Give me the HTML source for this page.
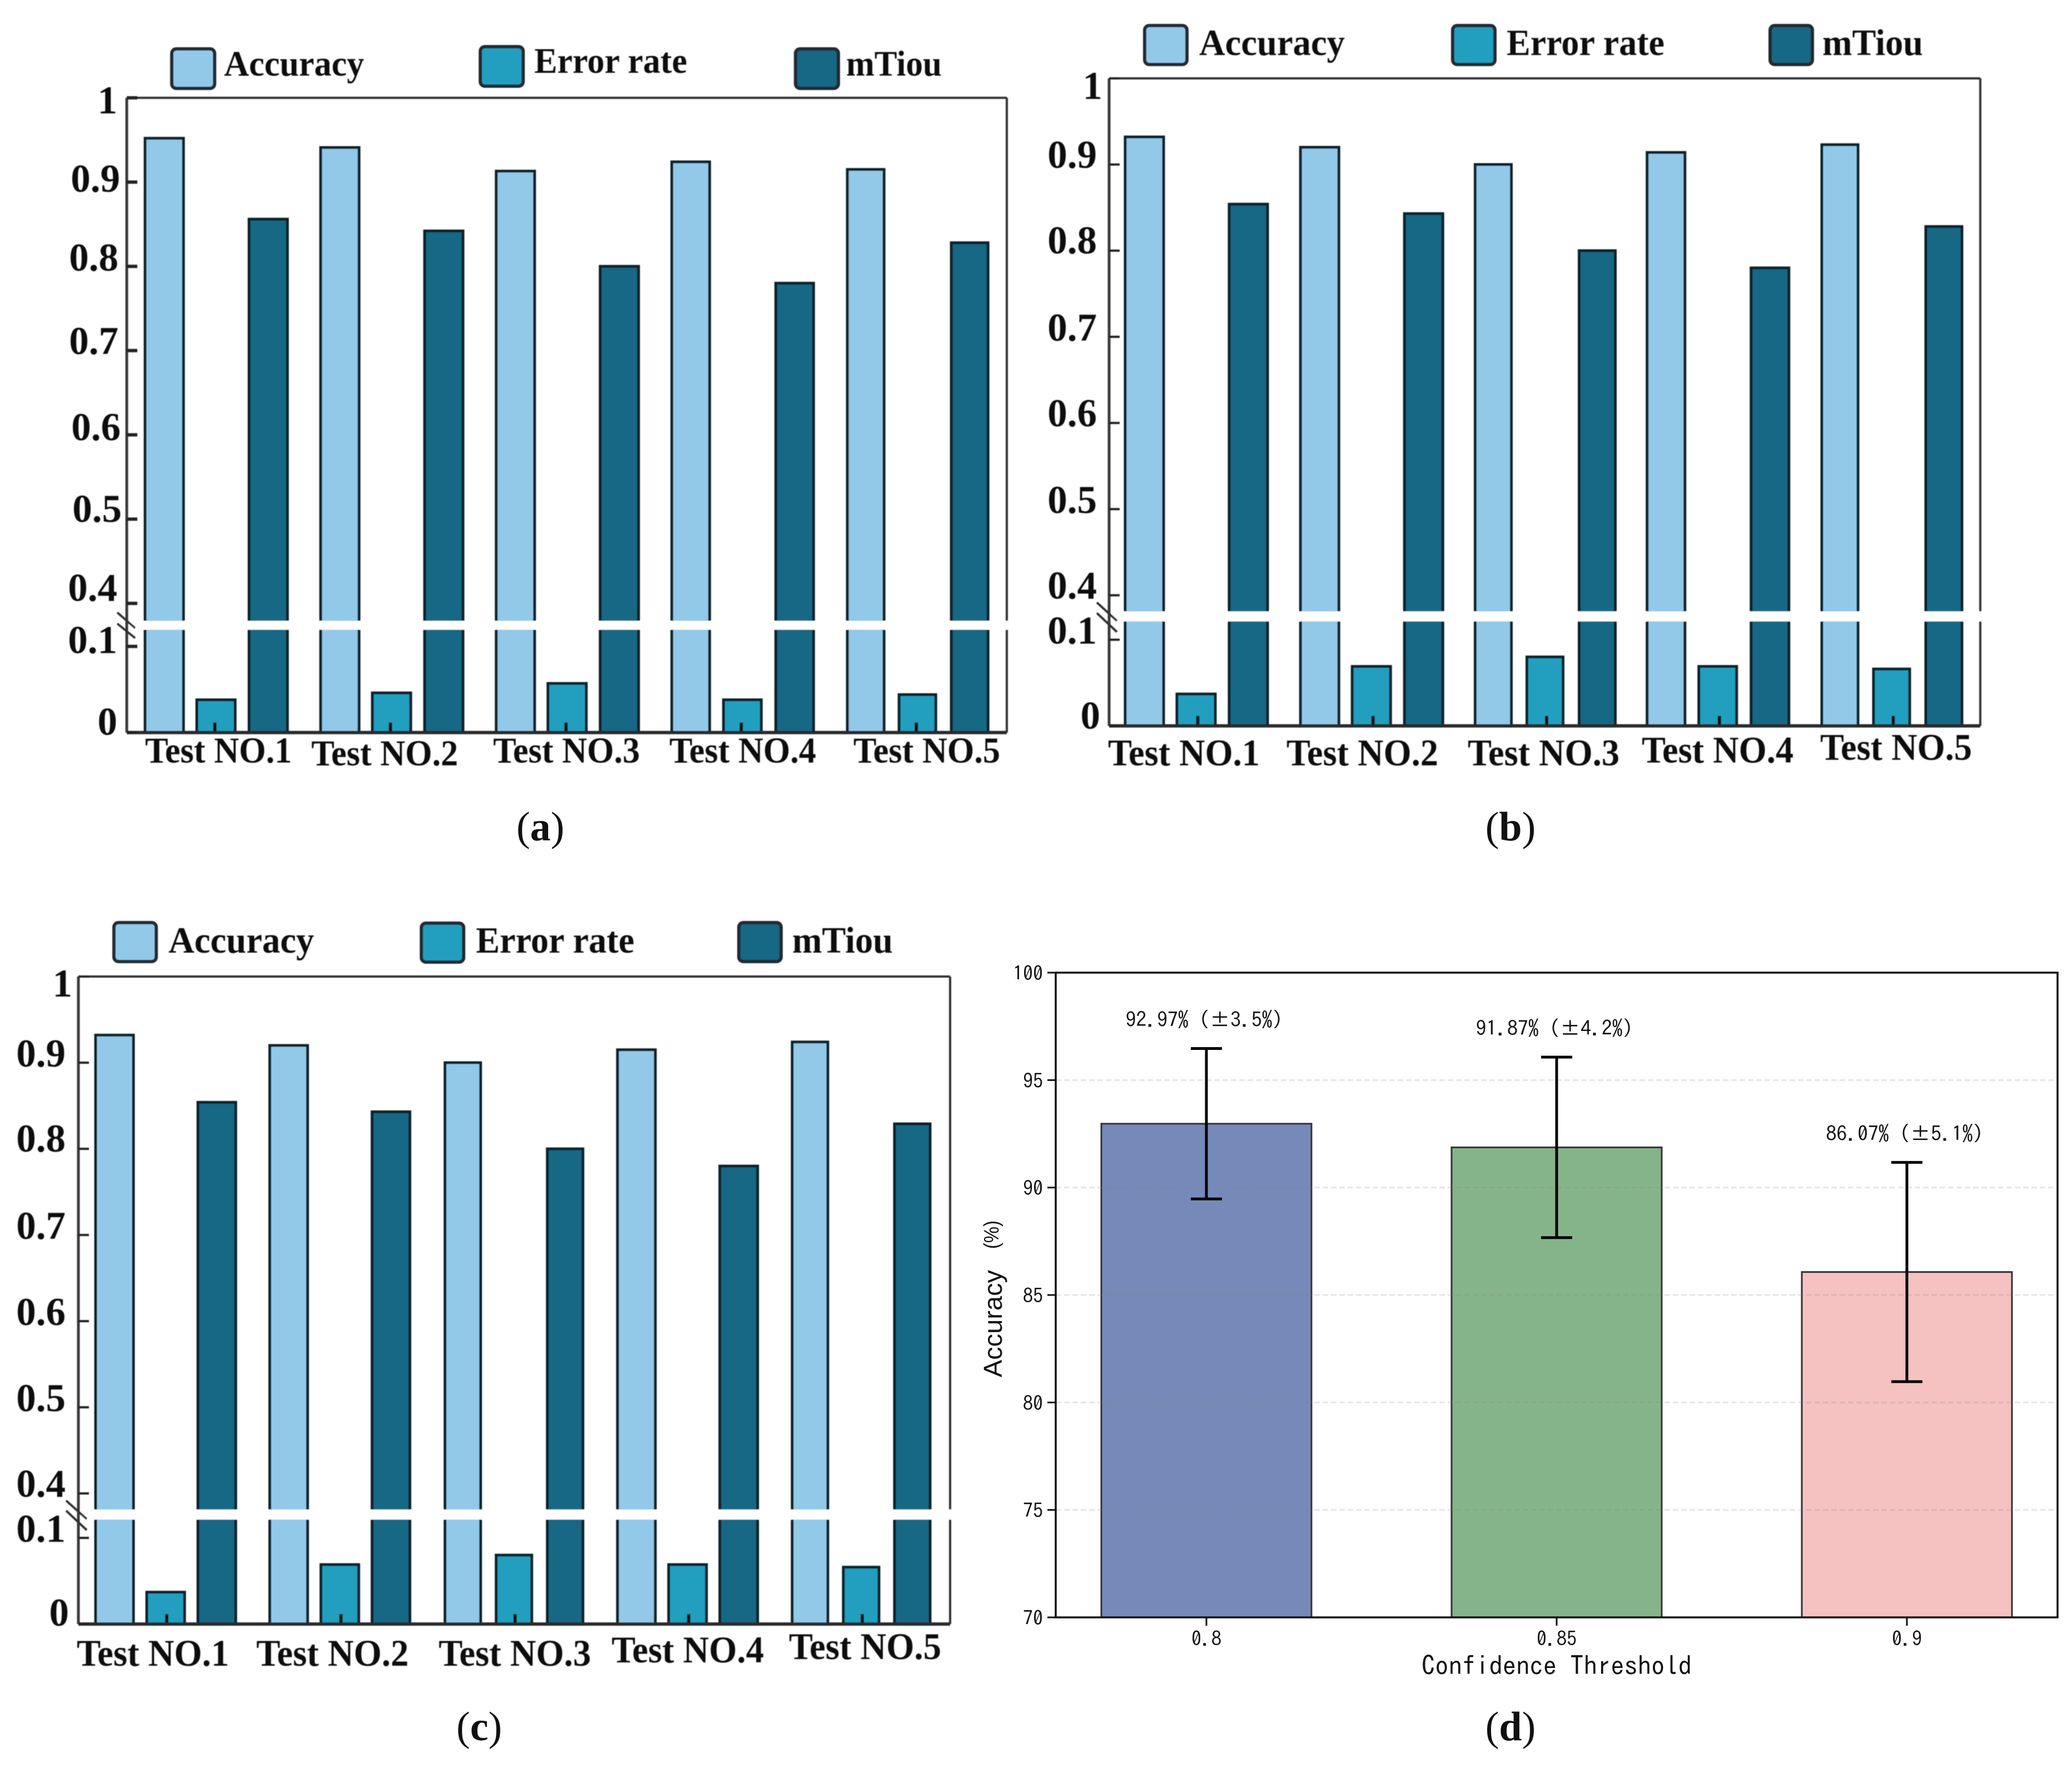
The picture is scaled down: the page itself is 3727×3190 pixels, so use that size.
<!DOCTYPE html>
<html lang="en">
<head>
<meta charset="utf-8">
<title>Detection test results by panel</title>
<style>
html,body{margin:0;padding:0;background:#fff;}
svg{display:block;}
.serif{font-family:"Liberation Serif",serif;fill:#111;}
.hei{font-family:"IPAGothic","Liberation Mono",monospace;fill:#111;}
.sans{font-family:"Liberation Sans",sans-serif;fill:#111;}
</style>
</head>
<body>
<svg id="figure" xmlns="http://www.w3.org/2000/svg" width="3727" height="3190" viewBox="0 0 3727 3190">
<defs>
<filter id="soft" x="-2%" y="-2%" width="104%" height="104%"><feGaussianBlur stdDeviation="0.9"/></filter>
</defs>
<rect width="3727" height="3190" fill="#fff"/>
</svg>
<script>
// ---- data: bar charts ----
const categories = ["Test NO.1", "Test NO.2", "Test NO.3", "Test NO.4", "Test NO.5"];
const seriesNames = ["Accuracy", "Error rate", "mTiou"];
const yTickValues = [1, 0.9, 0.8, 0.7, 0.6, 0.5, 0.4, 0.1, 0];
const yTickLabels = ["1", "0.9", "0.8", "0.7", "0.6", "0.5", "0.4", "0.1", "0"];

const accuracyA = [0.952, 0.941, 0.913, 0.924, 0.915];
const errorA = [0.038, 0.046, 0.057, 0.038, 0.044];
const mtiouA = [0.856, 0.842, 0.800, 0.780, 0.828];

const accuracyB = [0.932, 0.920, 0.900, 0.914, 0.923];
const errorB = [0.037, 0.069, 0.080, 0.069, 0.066];
const mtiouB = [0.854, 0.843, 0.800, 0.780, 0.828];

const accuracyC = [0.932, 0.920, 0.900, 0.915, 0.924];
const errorC = [0.037, 0.069, 0.080, 0.069, 0.066];
const mtiouC = [0.854, 0.843, 0.800, 0.780, 0.829];

// ---- data: panel d ----
const thresholds = ["0.8", "0.85", "0.9"];
const meanAccuracy = [92.97, 91.87, 86.07];
const accuracySpread = [3.5, 4.2, 5.1];
const valueLabels = ["92.97% (±3.5%)", "91.87% (±4.2%)", "86.07% (±5.1%)"];
const dTickValues = [70, 75, 80, 85, 90, 95, 100];
const dTickLabels = ["70", "75", "80", "85", "90", "95", "100"];

// ---- styling ----
const fills = ["#92C9E9", "#219FBF", "#126784"];
const dFills = ["#758AB8", "#86B48A", "#F5C1C1"];
const INK = "#10222b";
const NS = "http://www.w3.org/2000/svg";
const root = document.getElementById("figure");

function mk(parent, tag, name, interactable, attrs, text) {
  const el = document.createElementNS(NS, tag);
  
  
  for (const k in attrs) el.setAttribute(k, attrs[k]);
  if (text !== undefined) el.textContent = text;
  parent.appendChild(el);
  return el;
}

const panelAConfig = {
  key: "a", series: [accuracyA, errorA, mtiouA],
  left: 228, right: 1811, top: 176, bottom: 1318, upperScale: 1516, lowerScale: 1550,
  gapTop: 1117, gapBottom: 1133,
  barStart: 261, barStep: 315.8, barOffsets: [0, 93, 187],
  groupWidths: [69, 69, 69, 68, 66], groupNudges: [0, 0, 0, 0, 0],
  tickShift: -2, tickWidthY: 6, 
  slashX: [211, 243], slashY: [1102, 1130, 1122, 1148],
  yRight: [211, 216, 213, 213, 217, 219, 211, 211, 211],
  yBase: [204, 345, 487, 637, 792, 939, 1081, 1175, 1322],
  xLeft: [261, 560, 887, 1204, 1535], xBase: [1372, 1377, 1372, 1372, 1372], xWidth: 264, xSize: 66,
  legendBoxes: [[306, 86], [861, 82], [1428, 86]], legendBox: 82,
  legendText: [[403, 136, 252], [961, 131, 275], [1522, 136, 172]], legendSize: 65,
  caption: "a", captionX: 972, captionY: 1512
};
const panelBConfig = {
  key: "b", series: [accuracyB, errorB, mtiouB],
  left: 1995, right: 3562, top: 141, bottom: 1306, upperScale: 1550, lowerScale: 1550,
  gapTop: 1100, gapBottom: 1118,
  barStart: 2024, barStep: 313.25, barOffsets: [0, 93, 187],
  groupWidths: [69, 69, 65, 68, 65], groupNudges: [0, 2, 3, -1, 0],
  tickShift: 3, tickWidthY: 4,
  slashX: [1973, 2009], slashY: [1084, 1117, 1103, 1137],
  yRight: [1983, 1973, 1973, 1973, 1973, 1973, 1973, 1973, 1979],
  yBase: [178, 302, 456, 613, 767, 923, 1077, 1158, 1311],
  xLeft: [1993, 2314, 2640, 2953, 3274], xBase: [1377, 1377, 1377, 1372, 1367], xWidth: 273, xSize: 68,
  legendBoxes: [[2056, 44], [2610, 44], [3181, 44]], legendBox: 81,
  legendText: [[2157, 99, 262], [2710, 99, 284], [3278, 99, 181]], legendSize: 67,
  caption: "b", captionX: 2717, captionY: 1512
};
const panelCConfig = {
  key: "c", series: [accuracyC, errorC, mtiouC],
  left: 141, right: 1709, top: 1757, bottom: 2922, upperScale: 1550, lowerScale: 1550,
  gapTop: 2716, gapBottom: 2734,
  barStart: 172, barStep: 313.25, barOffsets: [0, 92, 184],
  groupWidths: [68, 68, 64, 68, 64], groupNudges: [0, 0, 2, -1, 0],
  tickShift: 2, tickWidthY: 4,
  slashX: [119, 156], slashY: [2700, 2733, 2718, 2753],
  yRight: [130, 118, 118, 118, 118, 118, 118, 118, 124],
  yBase: [1793, 1919, 2072, 2229, 2384, 2539, 2693, 2774, 2925],
  xLeft: [138, 461, 789, 1100, 1419], xBase: [2997, 2997, 2997, 2991, 2985], xWidth: 274, xSize: 68,
  legendBoxes: [[202, 1658], [755, 1659], [1326, 1658]], legendBox: 81,
  legendText: [[303, 1714, 262], [856, 1714, 285], [1425, 1714, 181]], legendSize: 67,
  caption: "c", captionX: 862, captionY: 3131
};

function drawBreakPanel(c) {
  const g = mk(root, "g", "bar-chart-" + c.key, "false", {filter: "url(#soft)"});
  // broken y axis: upper segment runs 0.4..1, lower segment runs 0..0.1
  const yAxis = v => v >= 0.4 ? c.top + (1 - v) * c.upperScale
                   : v <= 0.1 ? c.bottom - v * c.lowerScale
                   : c.bottom - 0.1 * c.lowerScale;
  const lineAttrs = (x1, y1, x2, y2, w, col) => ({x1, y1, x2, y2, "stroke-width": w, stroke: col});
  const groupLeft = i => c.barStart + i * c.barStep + c.groupNudges[i];

  mk(g, "line", "top-spine", "false", lineAttrs(c.left, c.top, c.right, c.top, 4, "#333"));
  mk(g, "line", "right-spine", "false", lineAttrs(c.right, c.top, c.right, c.bottom, 4, "#333"));

  c.series.forEach((vals, s) => {
    vals.forEach((v, i) => {
      const x = groupLeft(i) + c.barOffsets[s];
      const y = yAxis(v);
      mk(g, "rect", "bar-" + seriesNames[s].toLowerCase().replace(" ", "-") + "-" + (i + 1), "false",
        {x, y, width: c.groupWidths[i], height: c.bottom - y, fill: fills[s], stroke: INK, "stroke-width": 5});
    });
  });

  categories.forEach((name, i) => {
    const cx = groupLeft(i) + c.barOffsets[1] + c.groupWidths[i] / 2 + c.tickShift;
    mk(g, "line", "x-tick-" + (i + 1), "false", lineAttrs(cx, c.bottom - 18, cx, c.bottom, 6, "#111"));
    mk(g, "text", "x-tick-label-" + (i + 1), "false",
      {class: "serif", x: c.xLeft[i], y: c.xBase[i], "font-size": c.xSize, "font-weight": "bold",
       textLength: c.xWidth, lengthAdjust: "spacingAndGlyphs"}, name);
  });

  mk(g, "rect", "axis-break-gap", "false",
    {x: c.left + 4, y: c.gapTop, width: c.right - c.left + 6, height: c.gapBottom - c.gapTop, fill: "#fff"});
  mk(g, "line", "left-spine", "false", lineAttrs(c.left, c.top, c.left, c.bottom, 5, "#3a3a3a"));
  mk(g, "line", "bottom-spine", "false", lineAttrs(c.left, c.bottom, c.right, c.bottom, 6, "#2a2a2a"));

  const sx = c.slashX, sy = c.slashY;
  mk(g, "line", "axis-break-mark-1", "false", lineAttrs(sx[0], sy[0], sx[1], sy[1], 4, "#333"));
  mk(g, "line", "axis-break-mark-2", "false", lineAttrs(sx[0], sy[2], sx[1], sy[3], 4, "#333"));

  yTickValues.forEach((v, i) => {
    const y = yAxis(v);
    mk(g, "line", "y-tick-" + yTickLabels[i], "false", lineAttrs(c.left, y, c.left + 19, y, c.tickWidthY, "#222"));
    mk(g, "text", "y-tick-label-" + yTickLabels[i], "false",
      {class: "serif", x: c.yRight[i], y: c.yBase[i], "font-size": 71, "font-weight": "bold", "text-anchor": "end"}, yTickLabels[i]);
  });

  seriesNames.forEach((name, s) => {
    const b = c.legendBoxes[s], t = c.legendText[s];
    const key = name.toLowerCase().replace(" ", "-");
    mk(g, "rect", "legend-swatch-" + key, "false",
      {x: b[0] + 3, y: b[1] + 2, width: c.legendBox - 5, height: c.legendBox - 11, rx: 8, fill: fills[s], stroke: "#222c32", "stroke-width": 6});
    mk(g, "text", "legend-label-" + key, "false",
      {class: "serif", x: t[0], y: t[1], "font-size": c.legendSize, "font-weight": "bold",
       textLength: t[2], lengthAdjust: "spacingAndGlyphs"}, name);
  });

  drawCaption(c.caption, c.captionX, c.captionY);
}

function drawCaption(letter, cx, y) {
  const t = mk(root, "text", "panel-caption-" + letter, "false",
    {class: "serif", x: cx, y, "font-size": 74, "text-anchor": "middle"});
  t.appendChild(document.createTextNode("("));
  const b = document.createElementNS(NS, "tspan");
  b.setAttribute("font-weight", "bold");
  b.textContent = letter;
  t.appendChild(b);
  t.appendChild(document.createTextNode(")"));
}

function drawPanelD() {
  const g = mk(root, "g", "bar-chart-d", "false", {});
  const L = 1899, R = 3701, T = 1750, B = 2910;
  const yAxis = v => B - (v - 70) * (B - T) / 30;
  const xCenter = i => 2170 + i * 630;
  const BW = 378;

  thresholds.forEach((name, i) => {
    const cx = xCenter(i), y = yAxis(meanAccuracy[i]);
    mk(g, "rect", "bar-threshold-" + name, "false",
      {x: cx - BW / 2, y, width: BW, height: B - y, fill: dFills[i], stroke: "#333", "stroke-width": 3});
  });

  dTickValues.forEach((v, i) => {
    if (v > 70 && v < 100) {
      mk(g, "line", "grid-line-" + v, "false",
        {x1: L, x2: R, y1: yAxis(v), y2: yAxis(v), stroke: "#808080", "stroke-opacity": 0.2, "stroke-width": 3, "stroke-dasharray": "10 5"});
    }
    mk(g, "line", "y-tick-" + v, "false",
      {x1: L - 15, x2: L, y1: yAxis(v), y2: yAxis(v), stroke: "#111", "stroke-width": 3});
    mk(g, "text", "y-tick-label-" + v, "false",
      {class: "hei", x: 1876, y: yAxis(v) + 14, "font-size": 36, "text-anchor": "end"}, dTickLabels[i]);
  });

  thresholds.forEach((name, i) => {
    const cx = xCenter(i);
    const hi = yAxis(meanAccuracy[i] + accuracySpread[i]), lo = yAxis(meanAccuracy[i] - accuracySpread[i]);
    mk(g, "line", "error-bar-" + name, "false", {x1: cx, x2: cx, y1: hi, y2: lo, stroke: "#000", "stroke-width": 5});
    mk(g, "line", "error-cap-high-" + name, "false", {x1: cx - 28, x2: cx + 28, y1: hi, y2: hi, stroke: "#000", "stroke-width": 5});
    mk(g, "line", "error-cap-low-" + name, "false", {x1: cx - 28, x2: cx + 28, y1: lo, y2: lo, stroke: "#000", "stroke-width": 5});
    mk(g, "text", "value-label-" + name, "false",
      {class: "hei", x: cx - 4, y: hi - 39, "font-size": 37, "text-anchor": "middle", textLength: 283, lengthAdjust: "spacingAndGlyphs"}, valueLabels[i]);
    mk(g, "line", "x-tick-" + name, "false", {x1: cx, x2: cx, y1: B, y2: B + 15, stroke: "#111", "stroke-width": 3});
    mk(g, "text", "x-tick-label-" + name, "false",
      {class: "hei", x: cx, y: 2961, "font-size": 36, "text-anchor": "middle"}, name);
  });

  mk(g, "rect", "plot-frame", "false", {x: L, y: T, width: R - L, height: B - T, fill: "none", stroke: "#111", "stroke-width": 3.5});
  mk(g, "text", "x-axis-title", "false",
    {class: "hei", x: 2800, y: 3014, "font-size": 48, "text-anchor": "middle", textLength: 486, lengthAdjust: "spacingAndGlyphs"}, "Confidence Threshold");
  mk(g, "text", "y-axis-title", "false",
    {class: "sans", x: 0, y: 0, "font-size": 46, textLength: 193, lengthAdjust: "spacingAndGlyphs",
     transform: "translate(1802,2478) rotate(-90)"}, "Accuracy");
  mk(g, "text", "y-axis-title-unit", "false",
    {class: "sans", x: 0, y: 0, "font-size": 38, textLength: 51, lengthAdjust: "spacingAndGlyphs",
     transform: "translate(1796,2247) rotate(-90)"}, "(%)");
  drawCaption("d", 2717, 3131);
}

drawBreakPanel(panelAConfig);
drawBreakPanel(panelBConfig);
drawBreakPanel(panelCConfig);
drawPanelD();
</script>
</body>
</html>
